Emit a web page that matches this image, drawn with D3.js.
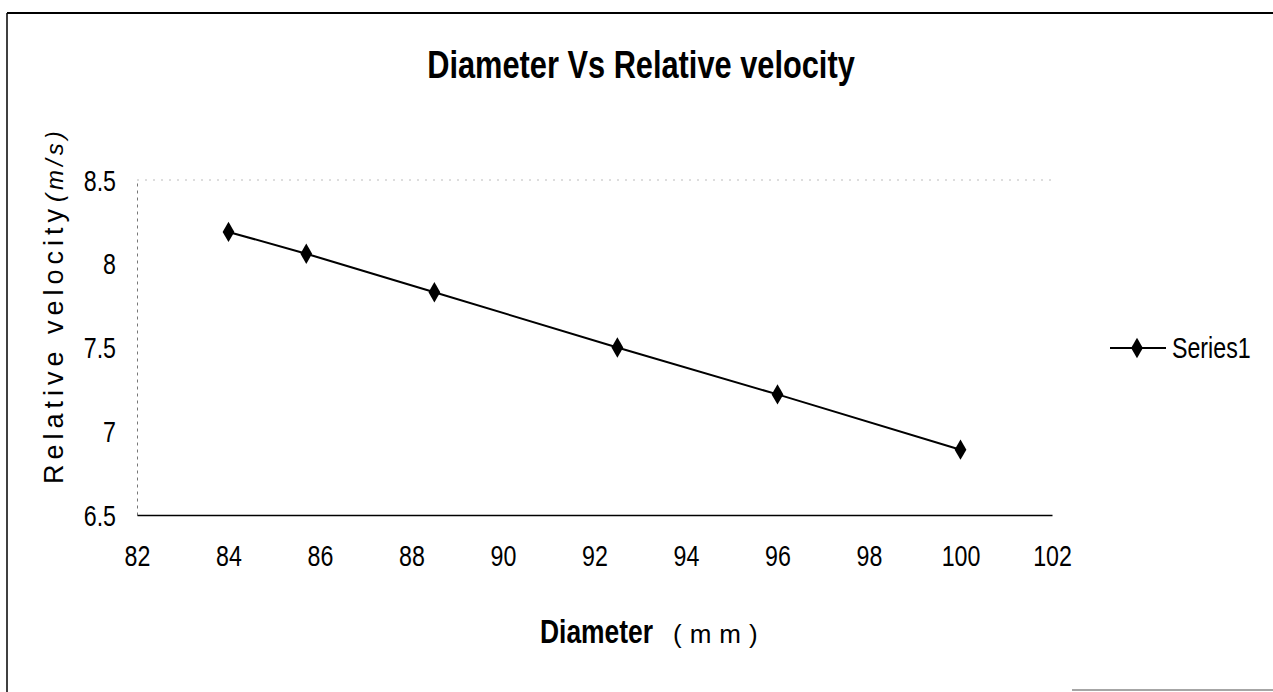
<!DOCTYPE html>
<html>
<head>
<meta charset="utf-8">
<script src="https://cdn.jsdelivr.net/npm/d3@7"></script>
<style>
  body { margin: 0; background: #fff; }
  text { font-family: "Liberation Sans", Arial, sans-serif; fill: #000; }
</style>
</head>
<body>
<svg id="chart" width="1273" height="692"></svg>
<script>
// data
let diameters = [84, 85.7, 88.5, 92.5, 96, 100];
let velocities = [8.19, 8.06, 7.83, 7.50, 7.22, 6.89];
let xTicks = [82, 84, 86, 88, 90, 92, 94, 96, 98, 100, 102];
let yTicks = [6.5, 7, 7.5, 8, 8.5];
let seriesName = "Series1";

let width = 1273, height = 692;
let narrow = 0.8; // fake the condensed face of the scan
let svg = d3.select("#chart");

// outer frame (scanned page border)
svg.append("line").attr("x1", 7).attr("x2", 1273).attr("y1", 13).attr("y2", 13)
  .attr("stroke", "#000").attr("stroke-width", 2);
svg.append("line").attr("x1", 7).attr("x2", 7).attr("y1", 13).attr("y2", 692)
  .attr("stroke", "#000").attr("stroke-width", 1.5);
svg.append("line").attr("x1", 1072).attr("x2", 1273).attr("y1", 690).attr("y2", 690)
  .attr("stroke", "#888").attr("stroke-width", 1.5);

let x = d3.scaleLinear().domain([82, 102]).range([137, 1052]);
let y = d3.scaleLinear().domain([6.5, 8.5]).range([515, 180]);

let plot = svg.append("g");

// faint top edge of plot area
plot.append("line")
  .attr("x1", x(82)).attr("x2", x(102))
  .attr("y1", y(8.5)).attr("y2", y(8.5))
  .attr("stroke", "#bbb").attr("stroke-width", 1)
  .attr("stroke-dasharray", "2,6");

// y axis (faint, dotted like the scan)
let yAxis = d3.axisLeft(y).tickValues(yTicks).tickSize(0).tickPadding(21)
  .tickFormat(d3.format("~g"));
let gy = plot.append("g").attr("transform", "translate(" + x(82) + ",0)").call(yAxis);
gy.select(".domain").attr("stroke", "#777").attr("stroke-width", 1).attr("stroke-dasharray", "3,4");
gy.selectAll("text")
  .style("font-size", "29px")
  .attr("x", -21 / narrow)
  .attr("dy", "0.35em")
  .attr("transform", "scale(" + narrow + ",1)");

// x axis
let xAxis = d3.axisBottom(x).tickValues(xTicks).tickSize(0).tickPadding(30)
  .tickFormat(d3.format("d"));
let gx = plot.append("g").attr("transform", "translate(0," + y(6.5) + ")").call(xAxis);
gx.select(".domain").attr("stroke", "#000").attr("stroke-width", 1.5);
gx.selectAll("text")
  .style("font-size", "29px")
  .attr("dy", "0.71em")
  .attr("transform", "scale(" + narrow + ",1)");

// series line
let pts = diameters.map((d, i) => [d, velocities[i]]);
let line = d3.line().x(d => x(d[0])).y(d => y(d[1]));
plot.append("path").datum(pts)
  .attr("d", line)
  .attr("fill", "none").attr("stroke", "#000").attr("stroke-width", 2);

let diamond = d3.symbol().type(d3.symbolDiamond).size(120);
plot.selectAll(".pt").data(pts).enter().append("path")
  .attr("class", "pt")
  .attr("d", diamond)
  .attr("transform", d => "translate(" + x(d[0]) + "," + y(d[1]) + ")")
  .attr("fill", "#000");

// title
svg.append("g").attr("transform", "translate(641,78)")
  .append("text")
  .attr("text-anchor", "middle")
  .attr("transform", "scale(0.81,1)")
  .style("font-size", "38px")
  .style("font-weight", "bold")
  .text("Diameter Vs Relative velocity");

// x axis title
let xg = svg.append("g").attr("transform", "translate(540,643)");
xg.append("text")
  .attr("transform", "scale(" + narrow + ",1)")
  .style("font-size", "33px")
  .style("font-weight", "bold")
  .text("Diameter");
xg.append("text")
  .attr("x", 133)
  .style("font-size", "26px")
  .style("letter-spacing", "8px")
  .text("(mm)");

// y axis title
let yt = svg.append("text")
  .attr("transform", "translate(63,484) rotate(-90)")
  .style("font-size", "27px");
yt.append("tspan").style("letter-spacing", "5px").text("Relative velocity");
yt.append("tspan").attr("dx", 2).style("font-style", "italic").style("font-size", "24px")
  .style("letter-spacing", "4px").text("(m/s)");

// legend
let lg = svg.append("g").attr("transform", "translate(1110,348)");
lg.append("line").attr("x1", 0).attr("x2", 56).attr("y1", 0).attr("y2", 0)
  .attr("stroke", "#000").attr("stroke-width", 2);
lg.append("path").attr("d", diamond).attr("transform", "translate(27,0)").attr("fill", "#000");
lg.append("g").attr("transform", "translate(62,0)")
  .append("text").attr("dy", "0.35em")
  .attr("transform", "scale(" + narrow + ",1)")
  .style("font-size", "29px").text(seriesName);
</script>
</body>
</html>
